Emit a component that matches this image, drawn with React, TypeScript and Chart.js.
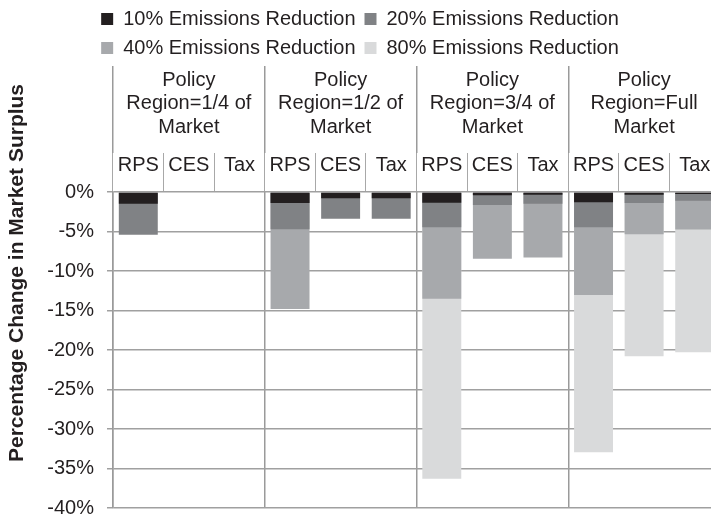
import React, { useEffect, useRef } from 'react';
import { Chart, registerables } from 'chart.js';

Chart.register(...registerables);

// ---- Data ----
const policyTypes = ['RPS', 'CES', 'Tax'];
const regionLabels = [
  ['Policy', 'Region=1/4 of', 'Market'],
  ['Policy', 'Region=1/2 of', 'Market'],
  ['Policy', 'Region=3/4 of', 'Market'],
  ['Policy', 'Region=Full', 'Market'],
];
const seriesNames = [
  '10% Emissions Reduction',
  '20% Emissions Reduction',
  '40% Emissions Reduction',
  '80% Emissions Reduction',
];
// Percentage change in market surplus (order: RPS, CES, Tax per region)
const reduction10 = [-1.5, null, null, -1.4, -0.8, -0.8, -1.35, -0.4, -0.35, -1.3, -0.35, -0.25];
const reduction20 = [-5.4, null, null, -4.7, -3.4, -3.4, -4.45, -1.65, -1.5, -4.45, -1.4, -1.1];
const reduction40 = [null, null, null, -14.8, null, null, -13.5, -8.45, -8.3, -13.05, -5.35, -4.75];
const reduction80 = [null, null, null, null, null, null, -36.3, null, null, -32.95, -20.8, -20.3];
const seriesColors = ['#231f20', '#808285', '#a7a9ac', '#d9dadb'];
const yMin = -40;
const yMax = 0;
const yStep = 5;

const TEXT = '#231f20';
const FONT = '"Liberation Sans", Arial, Helvetica, sans-serif';

export default function App() {
  const ref = useRef<HTMLCanvasElement>(null);

  useEffect(() => {
    Chart.defaults.font.family = FONT;
    Chart.defaults.color = TEXT;
    const labels = regionLabels.flatMap(() => policyTypes);
    const allSeries = [reduction10, reduction20, reduction40, reduction80];
    const chart = new Chart(ref.current as HTMLCanvasElement, {
      type: 'bar',
      data: {
        labels,
        datasets: allSeries.map((data, i) => ({
          label: seriesNames[i],
          data,
          backgroundColor: seriesColors[i],
          borderWidth: 0,
          grouped: false,
          barPercentage: 0.77,
          categoryPercentage: 1,
          order: i,
          xAxisID: 'x',
          yAxisID: 'y',
        })),
      },
      options: {
        responsive: false,
        animation: false,
        devicePixelRatio: 1,
        layout: { padding: { left: 0, right: 9, top: 0, bottom: 0 } },
        plugins: {
          tooltip: { enabled: false },
          legend: {
            position: 'top',
            maxHeight: 66,
            labels: {
              boxWidth: 12,
              boxHeight: 12,
              padding: 9,
              color: TEXT,
              font: { size: 20, family: FONT },
            },
          },
          title: {
            display: true,
            position: 'left',
            text: 'Percentage Change in Market Surplus',
            color: TEXT,
            font: { size: 21, weight: 'bold', lineHeight: 1.2, family: FONT },
            padding: { top: 5, bottom: 4 },
          },
          subtitle: {
            display: true,
            position: 'bottom',
            text: '',
            font: { size: 10, lineHeight: 1.2 },
            padding: { top: 26, bottom: 0 },
          },
        },
        scales: {
          x: {
            type: 'category',
            position: 'top',
            weight: 0,
            offset: true,
            grid: {
              offset: true,
              drawOnChartArea: false,
              drawTicks: true,
              tickLength: 39,
              color: '#a8a8a8',
              lineWidth: 1,
            },
            border: { display: false },
            ticks: {
              autoSkip: false,
              maxRotation: 0,
              minRotation: 0,
              padding: -23.8,
              color: TEXT,
              font: { size: 20, lineHeight: 1.18, family: FONT },
            },
            afterFit: (s: any) => {
              s.height = 39;
            },
          },
          x2: {
            type: 'category',
            position: 'top',
            weight: 1,
            labels: regionLabels as any,
            offset: true,
            grid: {
              offset: true,
              drawOnChartArea: true,
              drawTicks: true,
              tickLength: 87,
              color: '#9a9a9a',
              lineWidth: 1.5,
            },
            border: { display: false },
            ticks: {
              autoSkip: false,
              maxRotation: 0,
              minRotation: 0,
              padding: -73,
              color: TEXT,
              font: { size: 20, lineHeight: 1.18, family: FONT },
            },
            afterFit: (s: any) => {
              s.height = 87;
            },
          },
          y: {
            type: 'linear',
            min: yMin,
            max: yMax,
            ticks: {
              stepSize: yStep,
              padding: 13,
              color: TEXT,
              font: { size: 20, family: FONT },
              callback: (v: any) => `${v}%`,
            },
            grid: { color: '#a0a0a0', lineWidth: 1.5, tickLength: 6 },
            border: { display: true, color: '#9a9a9a', width: 1.5 },
            afterFit: (s: any) => {
              s.width = 78.8;
            },
          },
        },
      } as any,
    });
    return () => chart.destroy();
  }, []);

  return (
    <div
      style={{
        position: 'absolute',
        left: 0,
        top: 0,
        width: 711,
        height: 519,
        overflow: 'hidden',
        background: '#ffffff',
      }}
    >
      <canvas ref={ref} width={729} height={546} style={{ display: 'block', width: 729, height: 546 }} />
    </div>
  );
}
